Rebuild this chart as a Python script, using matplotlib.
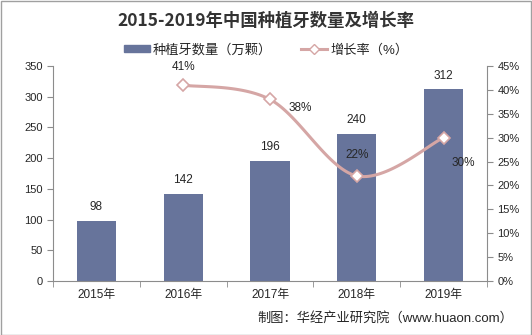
import numpy as np
import matplotlib
matplotlib.use("Agg")
import matplotlib.pyplot as plt
from matplotlib.patches import Rectangle
from matplotlib.lines import Line2D

plt.rcParams['font.family'] = ['Liberation Sans', 'Noto Sans CJK SC']

years = ["2015年", "2016年", "2017年", "2018年", "2019年"]
counts = [98, 142, 196, 240, 312]
growth_years_idx = [1, 2, 3, 4]
growth = [41, 38, 22, 30]
growth_labels = ["41%", "38%", "22%", "30%"]

bar_color = "#67749B"
line_color = "#D5A6A5"
axis_color = "#8C8C8C"
text_color = "#262626"

W, H = 532, 335
fig = plt.figure(figsize=(W / 100, H / 100), dpi=100)
fig.patch.set_facecolor("white")
fig.patches.append(Rectangle((0.5 / W, 0.5 / H), 1 - 1.5 / W, 1 - 1.5 / H, transform=fig.transFigure,
                             fill=False, edgecolor="#A0A0A0", linewidth=1))

ax = fig.add_axes([53 / W, 1 - 281 / H, (487 - 53) / W, (281 - 66) / H])
x = np.arange(len(years))
bars = ax.bar(x, counts, width=0.45, color=bar_color, zorder=2)
ax.set_xlim(-0.5, len(years) - 0.5)
ax.set_ylim(0, 350)
ax.set_yticks(np.arange(0, 351, 50))
ax.set_xticks(x)
ax.set_xticklabels(years, fontsize=8.5, color=text_color)
ax.set_xticks(np.arange(-0.5, len(years), 1), minor=True)
ax.tick_params(axis='x', which='major', length=0, pad=6)
ax.tick_params(axis='x', which='minor', length=4, color=axis_color, direction='out')
ax.tick_params(axis='y', labelsize=8, colors=text_color, length=4, color=axis_color, direction='out')
for s in ["top", "right"]:
    ax.spines[s].set_visible(False)
for s in ["left", "bottom"]:
    ax.spines[s].set_color(axis_color)

for xi, v in zip(x, counts):
    ax.text(xi, v + 12, str(v), ha='center', va='bottom', fontsize=8.5, color=text_color)

ax2 = ax.twinx()
ax2.set_ylim(0, 45)
ax2.set_yticks(np.arange(0, 46, 5))
ax2.set_yticklabels([f"{v}%" for v in range(0, 46, 5)])
ax2.tick_params(axis='y', labelsize=8, colors=text_color, length=4, color=axis_color, direction='out')
for s in ["top", "left", "bottom"]:
    ax2.spines[s].set_visible(False)
ax2.spines["right"].set_color(axis_color)

# Smoothed line (Catmull-Rom through data points in pixel-like space)
px = np.array(growth_years_idx, dtype=float) * 87.0
py = np.array(growth, dtype=float) * (215.0 / 45.0)
pts = np.column_stack([px, py])
ext = np.vstack([pts[0] - (pts[1] - pts[0]), pts, pts[-1] + (pts[-1] - pts[-2])])
curve = []
for i in range(1, len(ext) - 2):
    p0, p1, p2, p3 = ext[i - 1], ext[i], ext[i + 1], ext[i + 2]
    if i == 1:
        p0 = p1
    if i == len(ext) - 3:
        p3 = p2
    c1 = p1 + (p2 - p0) / 6.0
    c2 = p2 - (p3 - p1) / 6.0
    t = np.linspace(0, 1, 40)[:, None]
    seg = (1 - t) ** 3 * p1 + 3 * (1 - t) ** 2 * t * c1 + 3 * (1 - t) * t ** 2 * c2 + t ** 3 * p2
    curve.append(seg)
curve = np.vstack(curve)
ax2.plot(curve[:, 0] / 87.0, curve[:, 1] / (215.0 / 45.0), color=line_color, linewidth=2.2, zorder=3)
ax2.plot(growth_years_idx, growth, linestyle='none', marker='D', markersize=6,
         markerfacecolor='white', markeredgecolor=line_color, markeredgewidth=1.2, zorder=4)

label_offsets = [(0, 13, 'center', 'center'), (13, -6.5, 'left', 'center'),
                 (0, 15, 'center', 'center'), (6, -18, 'left', 'center')]
for xi, v, lab, (dx, dy, ha, va) in zip(growth_years_idx, growth, growth_labels, label_offsets):
    ax2.annotate(lab, (xi, v), xytext=(dx, dy), textcoords='offset points', ha=ha, va=va,
                 fontsize=8.5, color=text_color)
ax2.set_xlim(-0.5, len(years) - 0.5)

fig.text(0.5, 1 - 21 / H, "2015-2019年中国种植牙数量及增长率", ha='center', va='center',
         fontsize=12.5, fontweight='bold', color="#333333",
         family=['Noto Sans CJK SC', 'DejaVu Sans'])

handles = [Rectangle((0, 0), 1, 1, color=bar_color),
           Line2D([0], [0], color=line_color, linewidth=2.2, marker='D', markersize=5,
                  markerfacecolor='white', markeredgecolor=line_color)]
fig.legend(handles, ["种植牙数量（万颗）", "增长率（%）"], loc='center', bbox_to_anchor=(0.5, 1 - 50 / H),
           ncol=2, frameon=False, fontsize=9.5, handlelength=2.0, handleheight=0.45,
           columnspacing=2.2, handletextpad=0.2, labelcolor=text_color)

fig.text(513 / W, 1 - 318 / H, "制图：华经产业研究院（www.huaon.com）", ha='right', va='center',
         fontsize=9.5, color=text_color)

fig.savefig("out.png", dpi=100)
